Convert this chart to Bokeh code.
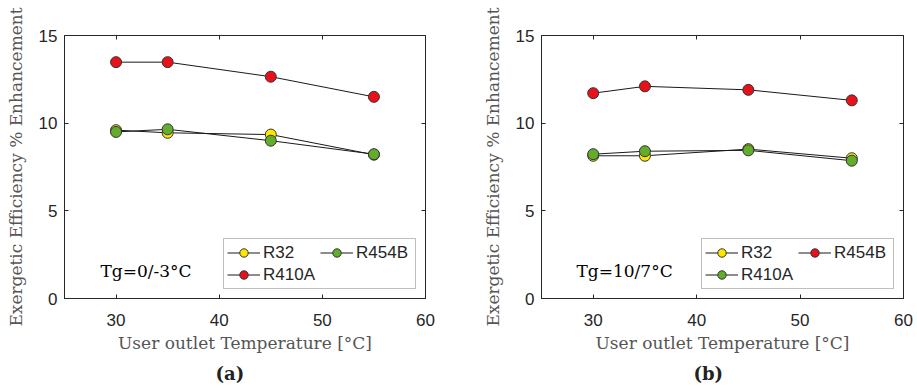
from bokeh.plotting import figure
from bokeh.layouts import row
from bokeh.models import (Range1d, FixedTicker, LinearAxis, Legend, LegendItem, Label)
from bokeh.embed import file_html
from bokeh.resources import INLINE

# ---- data ----
temps = [30, 35, 45, 55]
x_ticks = [30, 40, 50, 60]
y_ticks = [0, 5, 10, 15]

# panel (a): Tg = 0/-3 °C
a_r32 = [9.6, 9.45, 9.35, 8.2]
a_r454b = [9.5, 9.65, 9.0, 8.23]
a_r410a = [13.48, 13.48, 12.65, 11.5]

# panel (b): Tg = 10/7 °C
b_r32 = [8.14, 8.14, 8.52, 8.0]
b_r454b = [11.71, 12.1, 11.9, 11.3]
b_r410a = [8.23, 8.4, 8.45, 7.86]

YELLOW = "#FFE600"
RED = "#E8101A"
GREEN = "#62AD2B"
DARK = "#262626"


def make_panel(width, border_left, border_right, series, legend_order, note, tag,
               note_x, tag_offset):
    p = figure(width=width, height=390, output_backend="svg", toolbar_location=None,
               x_range=Range1d(25, 60), y_range=Range1d(0, 15),
               min_border_left=border_left, min_border_right=border_right,
               min_border_top=35, min_border_bottom=92,
               title=tag, title_location="below")
    p.title.align = "left"
    p.title.offset = tag_offset
    p.title.text_font = "DejaVu Serif"
    p.title.text_font_style = "bold"
    p.title.text_font_size = "18px"
    p.title.text_color = "#222222"
    p.title.standoff = 10

    p.grid.visible = False
    p.outline_line_color = DARK
    p.outline_line_width = 1
    p.background_fill_color = "white"
    p.border_fill_color = "white"

    p.xaxis.ticker = FixedTicker(ticks=x_ticks)
    p.yaxis.ticker = FixedTicker(ticks=y_ticks)
    for ax in (p.xaxis[0], p.yaxis[0]):
        ax.axis_line_color = DARK
        ax.major_tick_line_color = DARK
        ax.major_tick_in = 4
        ax.major_tick_out = 0
        ax.minor_tick_line_color = None
        ax.major_label_text_font = "Liberation Sans"
        ax.major_label_text_font_size = "17px"
        ax.major_label_text_color = DARK
        ax.axis_label_text_font = "DejaVu Serif"
        ax.axis_label_text_font_style = "normal"
        ax.axis_label_text_font_size = "17px"
        ax.axis_label_text_color = "#555555"
    p.xaxis.axis_label = "User outlet Temperature [°C]"
    p.yaxis.axis_label = "Exergetic Efficiency % Enhancement"
    p.xaxis.major_label_standoff = 15
    p.xaxis.axis_label_standoff = 4
    p.yaxis.major_label_standoff = 7
    p.yaxis.axis_label_standoff = 10

    for loc, tick in (("above", x_ticks), ("right", y_ticks)):
        ax = LinearAxis(ticker=FixedTicker(ticks=tick), axis_line_color=None,
                        major_tick_line_color=DARK, major_tick_in=4, major_tick_out=0,
                        minor_tick_line_color=None, major_label_text_font_size="1px",
                        major_label_text_color=None, major_label_standoff=0)
        p.add_layout(ax, loc)

    items = {}
    for name, vals, color in series:
        ln = p.line(temps, vals, line_color="#1a1a1a", line_width=1)
        sc = p.scatter(temps, vals, size=11, fill_color=color, line_color="#333333",
                       line_width=1)
        items[name] = LegendItem(label=name, renderers=[ln, sc])

    leg = Legend(items=[items[n] for n in legend_order], location="bottom_right", ncols=2,
                 border_line_color="#808080", border_line_width=1.5,
                 background_fill_color="white", background_fill_alpha=1,
                 label_text_font="Liberation Sans", label_text_font_size="17px",
                 label_text_color=DARK, glyph_width=33, glyph_height=21,
                 label_height=21, label_width=56, label_standoff=3, spacing=1,
                 padding=3, margin=9)
    p.add_layout(leg, "center")

    p.add_layout(Label(x=note_x, y=28, x_units="screen", y_units="screen", text=note,
                       text_font="DejaVu Serif", text_font_size="17px",
                       text_color="black", text_baseline="alphabetic"))
    return p


p1 = make_panel(460, 64, 35,
                [("R32", a_r32, YELLOW), ("R454B", a_r454b, GREEN), ("R410A", a_r410a, RED)],
                ["R32", "R410A", "R454B"],
                "Tg=0/-3°C", "(a)", 36, 151)
p2 = make_panel(457, 81, 14,
                [("R32", b_r32, YELLOW), ("R454B", b_r454b, RED), ("R410A", b_r410a, GREEN)],
                ["R32", "R410A", "R454B"],
                "Tg=10/7°C", "(b)", 35, 152)

layout = row(p1, p2)
open("out.html", "w").write(file_html(layout, INLINE))
